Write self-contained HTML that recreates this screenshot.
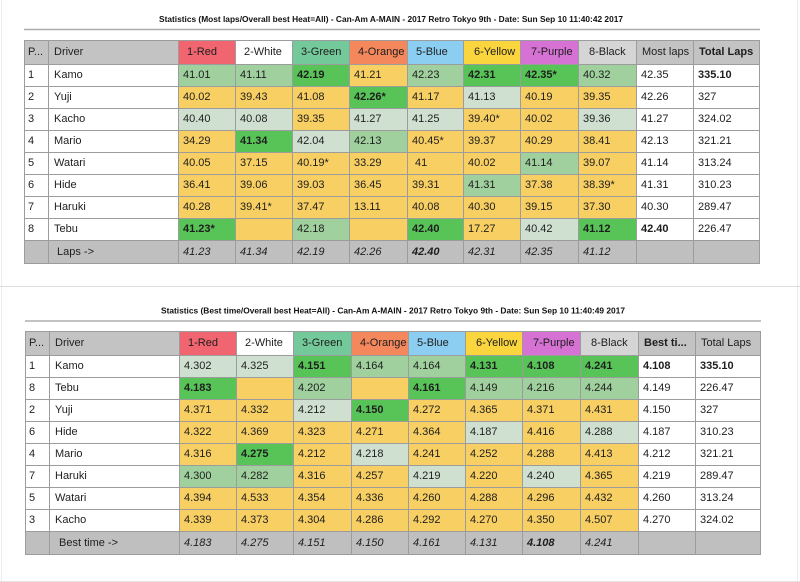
<!DOCTYPE html>
<html>
<head>
<meta charset="utf-8">
<style>
  html,body{margin:0;padding:0;}
  body{width:800px;height:582px;background:#fff;position:relative;overflow:hidden;font-family:"Liberation Sans",Arial,sans-serif;}
  .t{position:absolute;display:grid;gap:1px;padding:1px;background:#9c9c9c;}
  .t div{background:#fff;font-size:11px;line-height:1;display:flex;align-items:center;padding-left:4px;color:#1e1e1e;white-space:nowrap;overflow:hidden;}
  #t1{left:24px;top:40px;grid-template-columns:23px 129px 56px 56px 56px 57px 55px 56px 57px 57px 56px 65px;grid-template-rows:23px repeat(8,21px) 22px;}
  #t2{left:25px;top:331px;grid-template-columns:23px 129px 56px 56px 57px 56px 56px 56px 57px 57px 56px 64px;grid-template-rows:23px repeat(8,21px) 22px;}
  .t div.h{background:#c3c3c3;}
  .t div.hp{padding-left:3px;}
  .t div.hd{padding-left:5px;}
  .t div.c{padding-left:8px;}
  .t div.c2{padding-left:10px;}
  .t div.red{background:#f0656f;}
  .t div.wht{background:#ffffff;}
  .t div.grn{background:#74c99a;}
  .t div.org{background:#f5875c;}
  .t div.blu{background:#8ccdf2;}
  .t div.yel{background:#fad53e;}
  .t div.pur{background:#d672d4;}
  .t div.blk{background:#d5d5d5;}
  .t div.y{background:#f8cf62;}
  .t div.g{background:#58c458;font-weight:bold;}
  .t div.m{background:#a0d09e;}
  .t div.l{background:#cfe0d0;}
  .t div.b{font-weight:bold;}
  .t div.f{background:#bfbfbf;font-style:italic;}
  .t div.fl{background:#bfbfbf;padding-left:8px;}
  .t div.p{padding-left:3px;}
  .t div.n{padding-left:5px;}
</style>
</head>
<body>
<svg width="800" height="582" style="position:absolute;left:0;top:0" xmlns="http://www.w3.org/2000/svg">
  <line x1="1.5" y1="0" x2="1.5" y2="582" stroke="#ececec" stroke-width="1"/>
  <line x1="797.5" y1="0" x2="797.5" y2="582" stroke="#ececec" stroke-width="1"/>
  <line x1="0" y1="286.5" x2="800" y2="286.5" stroke="#dcdcdc" stroke-width="1"/>
  <line x1="0" y1="581.5" x2="800" y2="581.5" stroke="#e4e4e4" stroke-width="1"/>
  <line x1="24" y1="29.5" x2="760" y2="29.5" stroke="#adadad" stroke-width="1.5"/>
  <line x1="25" y1="321" x2="761" y2="321" stroke="#adadad" stroke-width="1.5"/>
  <text x="159" y="22" font-family="Liberation Sans, Arial, sans-serif" font-weight="bold" font-size="8.6" fill="#111" textLength="464" lengthAdjust="spacingAndGlyphs">Statistics (Most laps/Overall best Heat=All) - Can-Am A-MAIN - 2017 Retro Tokyo 9th - Date: Sun Sep 10 11:40:42 2017</text>
  <text x="161" y="313.5" font-family="Liberation Sans, Arial, sans-serif" font-weight="bold" font-size="8.6" fill="#111" textLength="464" lengthAdjust="spacingAndGlyphs">Statistics (Best time/Overall best Heat=All) - Can-Am A-MAIN - 2017 Retro Tokyo 9th - Date: Sun Sep 10 11:40:49 2017</text>
</svg>

<div class="t" id="t1">
  <div class="h hp">P...</div><div class="h hd">Driver</div><div class="c red">1-Red</div><div class="c wht">2-White</div><div class="c grn">3-Green</div><div class="c org">4-Orange</div><div class="c blu">5-Blue</div><div class="c2 yel">6-Yellow</div><div class="c2 pur">7-Purple</div><div class="c2 blk">8-Black</div><div class="h hd">Most laps</div><div class="h hd b">Total Laps</div>

  <div class="p">1</div><div class="n">Kamo</div><div class="m">41.01</div><div class="m">41.11</div><div class="g">42.19</div><div class="y">41.21</div><div class="m">42.23</div><div class="g">42.31</div><div class="g">42.35*</div><div class="m">40.32</div><div>42.35</div><div class="b">335.10</div>

  <div class="p">2</div><div class="n">Yuji</div><div class="y">40.02</div><div class="y">39.43</div><div class="y">41.08</div><div class="g">42.26*</div><div class="y">41.17</div><div class="l">41.13</div><div class="y">40.19</div><div class="y">39.35</div><div>42.26</div><div>327</div>

  <div class="p">3</div><div class="n">Kacho</div><div class="l">40.40</div><div class="l">40.08</div><div class="y">39.35</div><div class="l">41.27</div><div class="l">41.25</div><div class="y">39.40*</div><div class="y">40.02</div><div class="l">39.36</div><div>41.27</div><div>324.02</div>

  <div class="p">4</div><div class="n">Mario</div><div class="y">34.29</div><div class="g">41.34</div><div class="l">42.04</div><div class="m">42.13</div><div class="y">40.45*</div><div class="y">39.37</div><div class="y">40.29</div><div class="y">38.41</div><div>42.13</div><div>321.21</div>

  <div class="p">5</div><div class="n">Watari</div><div class="y">40.05</div><div class="y">37.15</div><div class="y">40.19*</div><div class="y">33.29</div><div class="y">&nbsp;41</div><div class="y">40.02</div><div class="m">41.14</div><div class="y">39.07</div><div>41.14</div><div>313.24</div>

  <div class="p">6</div><div class="n">Hide</div><div class="y">36.41</div><div class="y">39.06</div><div class="y">39.03</div><div class="y">36.45</div><div class="y">39.31</div><div class="m">41.31</div><div class="y">37.38</div><div class="y">38.39*</div><div>41.31</div><div>310.23</div>

  <div class="p">7</div><div class="n">Haruki</div><div class="y">40.28</div><div class="y">39.41*</div><div class="y">37.47</div><div class="y">13.11</div><div class="y">40.08</div><div class="y">40.30</div><div class="y">39.15</div><div class="y">37.30</div><div>40.30</div><div>289.47</div>

  <div class="p">8</div><div class="n">Tebu</div><div class="g">41.23*</div><div class="y"></div><div class="m">42.18</div><div class="y"></div><div class="g">42.40</div><div class="y">17.27</div><div class="l">40.42</div><div class="g">41.12</div><div class="b">42.40</div><div>226.47</div>

  <div class="f"></div><div class="fl">Laps -&gt;</div><div class="f">41.23</div><div class="f">41.34</div><div class="f">42.19</div><div class="f">42.26</div><div class="f b">42.40</div><div class="f">42.31</div><div class="f">42.35</div><div class="f">41.12</div><div class="f"></div><div class="f"></div>
</div>

<div class="t" id="t2">
  <div class="h hp">P...</div><div class="h hd">Driver</div><div class="c red">1-Red</div><div class="c wht">2-White</div><div class="c grn">3-Green</div><div class="c org">4-Orange</div><div class="c blu">5-Blue</div><div class="c2 yel">6-Yellow</div><div class="c2 pur">7-Purple</div><div class="c2 blk">8-Black</div><div class="h hd b">Best ti...</div><div class="h hd">Total Laps</div>

  <div class="p">1</div><div class="n">Kamo</div><div class="l">4.302</div><div class="l">4.325</div><div class="g">4.151</div><div class="m">4.164</div><div class="m">4.164</div><div class="g">4.131</div><div class="g">4.108</div><div class="g">4.241</div><div class="b">4.108</div><div class="b">335.10</div>

  <div class="p">8</div><div class="n">Tebu</div><div class="g">4.183</div><div class="y"></div><div class="m">4.202</div><div class="y"></div><div class="g">4.161</div><div class="m">4.149</div><div class="m">4.216</div><div class="m">4.244</div><div>4.149</div><div>226.47</div>

  <div class="p">2</div><div class="n">Yuji</div><div class="y">4.371</div><div class="y">4.332</div><div class="l">4.212</div><div class="g">4.150</div><div class="y">4.272</div><div class="y">4.365</div><div class="y">4.371</div><div class="y">4.431</div><div>4.150</div><div>327</div>

  <div class="p">6</div><div class="n">Hide</div><div class="y">4.322</div><div class="y">4.369</div><div class="y">4.323</div><div class="y">4.271</div><div class="y">4.364</div><div class="l">4.187</div><div class="y">4.416</div><div class="l">4.288</div><div>4.187</div><div>310.23</div>

  <div class="p">4</div><div class="n">Mario</div><div class="y">4.316</div><div class="g">4.275</div><div class="y">4.212</div><div class="l">4.218</div><div class="y">4.241</div><div class="y">4.252</div><div class="y">4.288</div><div class="y">4.413</div><div>4.212</div><div>321.21</div>

  <div class="p">7</div><div class="n">Haruki</div><div class="m">4.300</div><div class="m">4.282</div><div class="y">4.316</div><div class="y">4.257</div><div class="l">4.219</div><div class="y">4.220</div><div class="l">4.240</div><div class="y">4.365</div><div>4.219</div><div>289.47</div>

  <div class="p">5</div><div class="n">Watari</div><div class="y">4.394</div><div class="y">4.533</div><div class="y">4.354</div><div class="y">4.336</div><div class="y">4.260</div><div class="y">4.288</div><div class="y">4.296</div><div class="y">4.432</div><div>4.260</div><div>313.24</div>

  <div class="p">3</div><div class="n">Kacho</div><div class="y">4.339</div><div class="y">4.373</div><div class="y">4.304</div><div class="y">4.286</div><div class="y">4.292</div><div class="y">4.270</div><div class="y">4.350</div><div class="y">4.507</div><div>4.270</div><div>324.02</div>

  <div class="f"></div><div class="fl" style="padding-left:9px">Best time -&gt;</div><div class="f">4.183</div><div class="f">4.275</div><div class="f">4.151</div><div class="f">4.150</div><div class="f">4.161</div><div class="f">4.131</div><div class="f b">4.108</div><div class="f">4.241</div><div class="f"></div><div class="f"></div>
</div>
</body>
</html>
